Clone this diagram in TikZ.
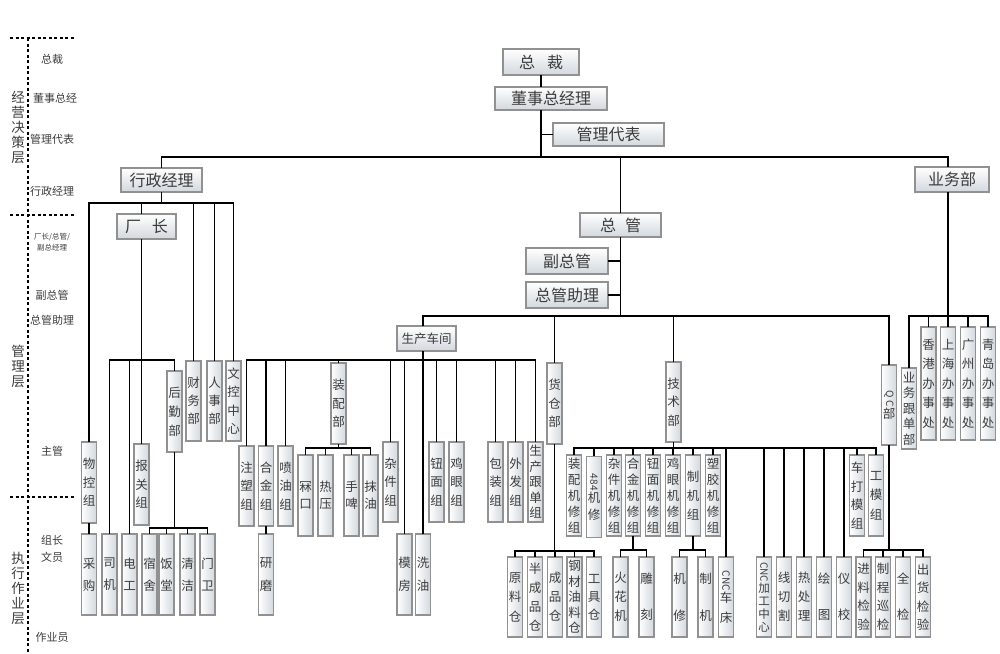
\documentclass[tikz,border=0pt]{standalone}
\usepackage{fontspec}
\setmainfont{Noto Sans CJK SC}
\usepackage{tikz}
\usetikzlibrary{positioning}

\definecolor{boxline}{RGB}{145,145,145}
\definecolor{boxfill}{RGB}{210,216,222}
\definecolor{txt}{RGB}{60,60,60}

\tikzset{
	orgbox/.style={draw=boxline, line width=1.4pt, inner sep=0pt, text=txt},
	hbox/.style={orgbox, top color=white, bottom color=boxfill, font=\fontsize{16}{16}\selectfont},
	vbox/.style={orgbox, left color=white, right color=boxfill, minimum width=15pt, minimum height=81pt, align=center, font=\fontsize{12.5}{#1}\selectfont},
	vbox/.default=18.5,
	link/.style={line width=1.2pt, line cap=rect, black},
	side/.style={text=txt, inner sep=0pt, font=\fontsize{11}{11}\selectfont},
	tier/.style={text=txt, inner sep=0pt, align=center, font=\fontsize{13.5}{15}\selectfont},
	tierline/.style={line width=2pt, dash pattern=on 3pt off 2.5pt},
}

\begin{document}
\begin{tikzpicture}[x=1pt, y=-1pt]

\useasboundingbox (0,0) rectangle (1000,653);

% Levels on the left
\draw[tierline] (10,38) -- (75,38);
\draw[tierline] (10,215) -- (75,215);
\draw[tierline] (10,497) -- (75,497);
\draw[tierline] (28,38) -- (28,653);

\node[tier] (t_juece) at (18,127) {经\\营\\决\\策\\层};
\node[tier] (t_guanli) at (18,366) {管\\理\\层};
\node[tier] (t_zhixing) at (18,588) {执\\行\\作\\业\\层};

\node[side] (l_zongcai) at (52,59) {总裁};
\node[side] (l_dongshi) at (55,98) {董事总经};
\node[side] (l_guanli) at (52,139) {管理代表};
\node[side] (l_xingzheng) at (52,191) {行政经理};
\node[side, align=center, font=\fontsize{7.5}{11}\selectfont] (l_chang) at (52,242) {厂长/总管/\\副总经理};
\node[side] (l_fuzong) at (52,295) {副总管};
\node[side] (l_zhuli) at (52,320) {总管助理};
\node[side] (l_zhuguan) at (52,451) {主管};
\node[side, align=center, font=\fontsize{11}{17}\selectfont] (l_zuzhang) at (52,549) {组长\\文员};
\node[side] (l_zuoye) at (52,637) {作业员};

% Bus levels
\coordinate (mainbus) at (0,157);
\coordinate (xzbus) at (0,203);
\coordinate (czbus) at (0,360);
\coordinate (hqbus) at (0,528);
\coordinate (zgbus) at (0,316);
\coordinate (scbus) at (0,360);
\coordinate (zpbus) at (0,448);
\coordinate (hcbus) at (0,551);
\coordinate (jsbus) at (0,448);
\coordinate (hjbus) at (0,550);
\coordinate (zjbus) at (0,550);
\coordinate (qcbus) at (0,550);
\coordinate (ywbus) at (0,316);

% Top
\node[hbox, minimum width=76pt, minimum height=26pt] (zongcai) at (541,62) {总\hspace{12pt}裁};
\node[hbox, minimum width=112pt, minimum height=23pt] (dongshi) at (551,98.5) {董事总经理};
\node[hbox, minimum width=111pt, minimum height=23pt] (guanli) at (608.5,134.5) {管理代表};
\node[hbox, minimum width=81pt, minimum height=24pt] (xingzheng) at (161.5,180) {行政经理};
\node[hbox, minimum width=74pt, minimum height=25pt] (yewu) at (952,179.5) {业务部};
\node[hbox, minimum width=59pt, minimum height=25pt] (changzhang) at (146.5,226.5) {厂\hspace{11pt}长};
\node[hbox, minimum width=81pt, minimum height=24pt] (zongguan) at (620.5,225) {总\hspace{9pt}管};
\node[hbox, minimum width=82pt, minimum height=26pt] (fuzongguan) at (567,261) {副总管};
\node[hbox, minimum width=82pt, minimum height=26pt] (zhuli) at (567,295) {总管助理};
\node[hbox, minimum width=59pt, minimum height=25pt, font=\fontsize{12.5}{12.5}\selectfont] (shengchan) at (426.5,338.5) {生产车间};

% Administration
\node[vbox] (wukong) at (89,482.5) {物\\控\\组};
\node[vbox=22] (caigou) at (89,574.5) {采\\购};
\node[vbox=22] (siji) at (109.5,574.5) {司\\机};
\node[vbox=22] (diangong) at (129.5,574.5) {电\\工};
\node[vbox] (baoguan) at (141.5,484.5) {报\\关\\组};
\node[vbox=19] (houqin) at (174.5,411.5) {后\\勤\\部};
\node[vbox=22] (sushe) at (149.5,574.5) {宿\\舍};
\node[vbox=22] (fantang) at (166.5,574.5) {饭\\堂};
\node[vbox=22] (qingjie) at (187.5,574.5) {清\\洁};
\node[vbox=22] (menwei) at (207.5,574.5) {门\\卫};
\node[vbox=18, minimum height=80pt] (caiwu) at (193.5,401) {财\\务\\部};
\node[vbox=18, minimum height=80pt] (renshi) at (214.5,401) {人\\事\\部};
\node[vbox=18.3, minimum height=80pt] (wenkong) at (233.5,401) {文\\控\\中\\心};

% Production
\node[vbox, minimum height=80pt] (zhusu) at (246.5,486) {注\\塑\\组};
\node[vbox, minimum height=80pt] (hejin) at (266,486) {合\\金\\组};
\node[vbox, minimum height=80pt] (penyou) at (285.5,486) {喷\\油\\组};
\node[vbox=23] (yanmo) at (266,574.5) {研\\磨};
\node[vbox] (zhuangpei) at (338.5,403.5) {装\\配\\部};
\node[vbox=17] (linkou) at (305.5,495.5) {冧\\口};
\node[vbox=17] (reya) at (325.5,495.5) {热\\压};
\node[vbox=17] (shoupi) at (351.5,495.5) {手\\啤};
\node[vbox=17] (moyou) at (370.5,495.5) {抹\\油};
\node[vbox, minimum height=80pt] (zajian) at (390.5,482) {杂\\件\\组};
\node[vbox=23] (mofang) at (404.5,574.5) {模\\房};
\node[vbox=23] (xiyou) at (423,574.5) {洗\\油};
\node[vbox, minimum height=80pt] (niumian) at (436.5,482) {钮\\面\\组};
\node[vbox, minimum height=80pt] (jiyan) at (456.5,482) {鸡\\眼\\组};
\node[vbox, minimum height=80pt] (baozhuang) at (495.5,482) {包\\装\\组};
\node[vbox, minimum height=80pt] (waifa) at (515.5,482) {外\\发\\组};
\node[vbox=15.5, minimum height=80pt] (gendan) at (535.5,482) {生\\产\\跟\\单\\组};

% Warehouse
\node[vbox] (huocang) at (554.5,403.5) {货\\仓\\部};
\node[vbox=19.5, minimum height=80pt] (yuanliao) at (515,597) {原\\料\\仓};
\node[vbox=19, minimum height=80pt] (banchengpin) at (535,597) {半\\成\\品\\仓};
\node[vbox=19, minimum height=80pt] (chengpin) at (555,597) {成\\品\\仓};
\node[vbox=15.5, minimum height=80pt] (gangcai) at (574.5,597) {钢\\材\\油\\料\\仓};
\node[vbox=18, minimum height=80pt] (gongju) at (594,597) {工\\具\\仓};

% Technical
\node[vbox, minimum height=80pt] (jishu) at (673.5,402) {技\\术\\部};
\node[vbox=16] (jx_zhuangpei) at (574,495.5) {装\\配\\机\\修\\组};
\node[vbox=17] (jx_484) at (594,497) {\rotatebox{-90}{\fontsize{10}{10}\selectfont 484}\\机\\修};
\node[vbox=16] (jx_zajian) at (614,495.5) {杂\\件\\机\\修\\组};
\node[vbox=16] (jx_hejin) at (633,495.5) {合\\金\\机\\修\\组};
\node[vbox=16] (jx_niumian) at (653,495.5) {钮\\面\\机\\修\\组};
\node[vbox=16] (jx_jiyan) at (673,495.5) {鸡\\眼\\机\\修\\组};
\node[vbox=19] (jx_zhiji) at (693,495.5) {制\\机\\组};
\node[vbox=16] (jx_sujiao) at (713,495.5) {塑\\胶\\机\\修\\组};
\node[vbox=19, minimum height=80pt] (huohua) at (620.5,597) {火\\花\\机};
\node[vbox=36, minimum height=80pt] (diaoke) at (646.5,597) {雕\\刻};
\node[vbox=37, minimum height=80pt] (jixiu) at (679.5,597) {机\\修};
\node[vbox=37, minimum height=80pt] (zhiji) at (705.5,597) {制\\机};
\node[vbox=20, minimum height=80pt] (cnc_chechuang) at (726,597) {\rotatebox{-90}{\fontsize{10}{10}\selectfont CNC}\\车\\床};
\node[vbox, minimum height=80pt, font=\fontsize{11.5}{12.8}\selectfont] (cnc_jiagong) at (764,597) {\rotatebox{-90}{\fontsize{10}{10}\selectfont CNC}\\加\\工\\中\\心};
\node[vbox=19, minimum height=80pt] (xianqie) at (784,597) {线\\切\\割};
\node[vbox=19, minimum height=80pt] (rechuli) at (804,597) {热\\处\\理};
\node[vbox=36, minimum height=80pt] (huitu) at (824,597) {绘\\图};
\node[vbox=36, minimum height=80pt] (yixiao) at (844,597) {仪\\校};
\node[vbox=18.5] (cheda) at (857,495.5) {车\\打\\模\\组};
\node[vbox=19.5] (gongmo) at (876,495.5) {工\\模\\组};

% QC
\node[vbox=16, minimum height=80pt] (qc) at (889,405) {\rotatebox{-90}{\fontsize{10}{10}\selectfont Q\,\,C}\\部};
\node[vbox=18.5, minimum height=80pt] (jinliao) at (863.5,597) {进\\料\\检\\验};
\node[vbox=18.5, minimum height=80pt] (zhicheng) at (883,597) {制\\程\\巡\\检};
\node[vbox=36, minimum height=80pt] (quanjian) at (903,597) {全\\检};
\node[vbox=18.5, minimum height=80pt] (chuhuo) at (923,597) {出\\货\\检\\验};

% Sales
\node[vbox=15.5] (gendanbu) at (909,408.5) {业\\务\\跟\\单\\部};
\node[vbox=19.5, minimum height=113pt] (xianggang) at (928.5,383.5) {香\\港\\办\\事\\处};
\node[vbox=19.5, minimum height=113pt] (shanghai) at (948,383.5) {上\\海\\办\\事\\处};
\node[vbox=19.5, minimum height=113pt] (guangzhou) at (968,383.5) {广\\州\\办\\事\\处};
\node[vbox=19.5, minimum height=113pt] (qingdao) at (988,383.5) {青\\岛\\办\\事\\处};


% Lines

\draw[link] (zongcai.south) -- (zongcai.south |- dongshi.north);
\draw[link] (zongcai.south |- dongshi.south) -- (zongcai.south |- mainbus);
\draw[link] (zongcai.south |- guanli.west) -- (guanli.west);
\draw[link] (xingzheng.north) -- (xingzheng.north |- mainbus) -- (shanghai.north |- mainbus) -- (shanghai.north |- yewu.north);
\draw[link] (zongguan.north) -- (zongguan.north |- mainbus);

\draw[link] (xingzheng.south) -- (xingzheng.south |- xzbus);
\draw[link] (wukong.north |- xzbus) -- (wenkong.north |- xzbus);
\draw[link] (wukong.north |- xzbus) -- (wukong.north);
\draw[link] (baoguan.north |- xzbus) -- (baoguan.north |- changzhang.north);
\draw[link] (caiwu.north |- xzbus) -- (caiwu.north);
\draw[link] (renshi.north |- xzbus) -- (renshi.north);
\draw[link] (wenkong.north |- xzbus) -- (wenkong.north);
\draw[link] (wukong) -- (caigou);

\draw[link] (baoguan.north |- changzhang.south) -- (baoguan.north);
\draw[link] (siji.north |- czbus) -- (houqin.north |- czbus);
\draw[link] (siji.north |- czbus) -- (siji.north);
\draw[link] (diangong.north |- czbus) -- (diangong.north);
\draw[link] (houqin.north |- czbus) -- (houqin.north);

\draw[link] (houqin.south) -- (houqin.south |- hqbus);
\draw[link] (sushe.north |- hqbus) -- (menwei.north |- hqbus);
\draw[link] (sushe.north |- hqbus) -- (sushe.north);
\draw[link] (fantang.north |- hqbus) -- (fantang.north);
\draw[link] (qingjie.north |- hqbus) -- (qingjie.north);
\draw[link] (menwei.north |- hqbus) -- (menwei.north);

\draw[link] (zongguan.south) -- (zongguan.south |- zgbus);
\draw[link] (fuzongguan.east) -- (zongguan.south |- fuzongguan.east);
\draw[link] (zhuli.east) -- (zongguan.south |- zhuli.east);
\draw[link] (xiyou.north |- zgbus) -- (qc.north |- zgbus);
\draw[link] (xiyou.north |- zgbus) -- (xiyou.north |- shengchan.north);
\draw[link] (huocang.north |- zgbus) -- (huocang.north);
\draw[link] (jishu.north |- zgbus) -- (jishu.north);
\draw[link] (qc.north |- zgbus) -- (qc.north);

\draw[link] (xiyou.north |- shengchan.south) -- (xiyou.north);
\draw[link] (zhusu.north |- scbus) -- (gendan.north |- scbus);
\draw[link] (zhusu.north |- scbus) -- (zhusu.north);
\draw[link] (hejin.north |- scbus) -- (hejin.north);
\draw[link] (penyou.north |- scbus) -- (penyou.north);
\draw[link] (zhuangpei.north |- scbus) -- (zhuangpei.north);
\draw[link] (zajian.north |- scbus) -- (zajian.north);
\draw[link] (mofang.north |- scbus) -- (mofang.north);
\draw[link] (niumian.north |- scbus) -- (niumian.north);
\draw[link] (jiyan.north |- scbus) -- (jiyan.north);
\draw[link] (baozhuang.north |- scbus) -- (baozhuang.north);
\draw[link] (waifa.north |- scbus) -- (waifa.north);
\draw[link] (gendan.north |- scbus) -- (gendan.north);
\draw[link] (hejin) -- (yanmo);

\draw[link] (zhuangpei.south) -- (zhuangpei.south |- zpbus);
\draw[link] (linkou.north |- zpbus) -- (moyou.north |- zpbus);
\draw[link] (linkou.north |- zpbus) -- (linkou.north);
\draw[link] (reya.north |- zpbus) -- (reya.north);
\draw[link] (shoupi.north |- zpbus) -- (shoupi.north);
\draw[link] (moyou.north |- zpbus) -- (moyou.north);

\draw[link] (huocang.south) -- (huocang.south |- hcbus);
\draw[link] (yuanliao.north |- hcbus) -- (gongju.north |- hcbus);
\draw[link] (yuanliao.north |- hcbus) -- (yuanliao.north);
\draw[link] (banchengpin.north |- hcbus) -- (banchengpin.north);
\draw[link] (chengpin.north |- hcbus) -- (chengpin.north);
\draw[link] (gangcai.north |- hcbus) -- (gangcai.north);
\draw[link] (gongju.north |- hcbus) -- (gongju.north);

\draw[link] (jishu.south) -- (jishu.south |- jsbus);
\draw[link] (jx_zhuangpei.north |- jsbus) -- (gongmo.north |- jsbus);
\draw[link] (jx_zhuangpei.north |- jsbus) -- (jx_zhuangpei.north);
\draw[link] (jx_484.north |- jsbus) -- (jx_484.north);
\draw[link] (jx_zajian.north |- jsbus) -- (jx_zajian.north);
\draw[link] (jx_hejin.north |- jsbus) -- (jx_hejin.north);
\draw[link] (jx_niumian.north |- jsbus) -- (jx_niumian.north);
\draw[link] (jx_jiyan.north |- jsbus) -- (jx_jiyan.north);
\draw[link] (jx_zhiji.north |- jsbus) -- (jx_zhiji.north);
\draw[link] (jx_sujiao.north |- jsbus) -- (jx_sujiao.north);
\draw[link] (cnc_chechuang.north |- jsbus) -- (cnc_chechuang.north);
\draw[link] (cnc_jiagong.north |- jsbus) -- (cnc_jiagong.north);
\draw[link] (xianqie.north |- jsbus) -- (xianqie.north);
\draw[link] (rechuli.north |- jsbus) -- (rechuli.north);
\draw[link] (huitu.north |- jsbus) -- (huitu.north);
\draw[link] (yixiao.north |- jsbus) -- (yixiao.north);
\draw[link] (cheda.north |- jsbus) -- (cheda.north);
\draw[link] (gongmo.north |- jsbus) -- (gongmo.north);

\draw[link] (jx_hejin.south) -- (jx_hejin.south |- hjbus);
\draw[link] (huohua.north |- hjbus) -- (diaoke.north |- hjbus);
\draw[link] (huohua.north |- hjbus) -- (huohua.north);
\draw[link] (diaoke.north |- hjbus) -- (diaoke.north);

\draw[link] (jx_zhiji.south) -- (jx_zhiji.south |- zjbus);
\draw[link] (jixiu.north |- zjbus) -- (zhiji.north |- zjbus);
\draw[link] (jixiu.north |- zjbus) -- (jixiu.north);
\draw[link] (zhiji.north |- zjbus) -- (zhiji.north);

\draw[link] (qc.south) -- (qc.south |- qcbus);
\draw[link] (jinliao.north |- qcbus) -- (chuhuo.north |- qcbus);
\draw[link] (jinliao.north |- qcbus) -- (jinliao.north);
\draw[link] (zhicheng.north |- qcbus) -- (zhicheng.north);
\draw[link] (quanjian.north |- qcbus) -- (quanjian.north);
\draw[link] (chuhuo.north |- qcbus) -- (chuhuo.north);

\draw[link] (shanghai.north |- yewu.south) -- (shanghai.north |- ywbus);
\draw[link] (gendanbu.north |- ywbus) -- (qingdao.north |- ywbus);
\draw[link] (gendanbu.north |- ywbus) -- (gendanbu.north);
\draw[link] (xianggang.north |- ywbus) -- (xianggang.north);
\draw[link] (shanghai.north |- ywbus) -- (shanghai.north);
\draw[link] (guangzhou.north |- ywbus) -- (guangzhou.north);
\draw[link] (qingdao.north |- ywbus) -- (qingdao.north);

\end{tikzpicture}
\end{document}
